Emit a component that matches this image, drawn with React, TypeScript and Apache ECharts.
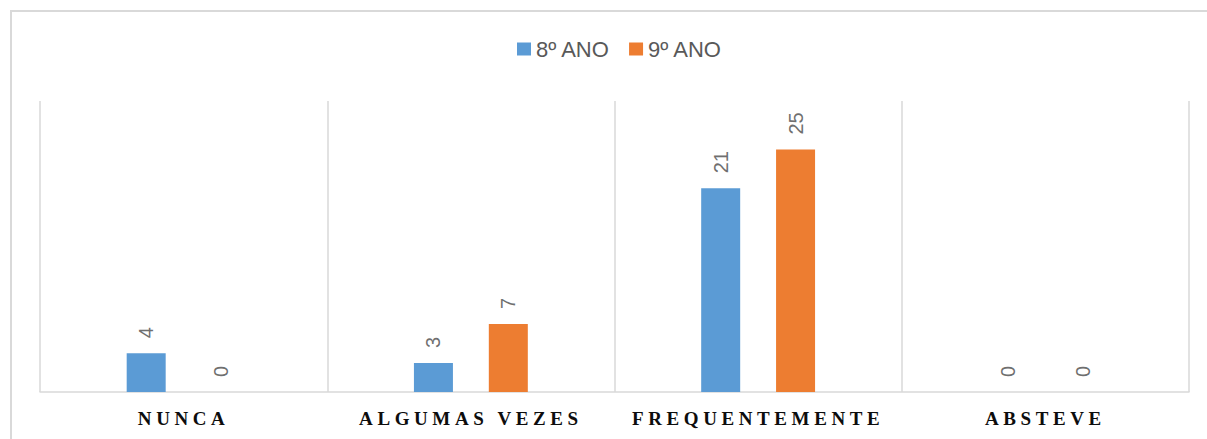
import React, { useEffect, useRef } from "react";
import * as echarts from "echarts";

const categories = ["NUNCA", "ALGUMAS VEZES", "FREQUENTEMENTE", "ABSTEVE"];
const seriesNames = ["8º ANO", "9º ANO"];
const ano8 = [4, 3, 21, 0];
const ano9 = [0, 7, 25, 0];
const colors = ["#5B9BD5", "#ED7D31"];

export default function App() {
  const ref = useRef<HTMLDivElement>(null);
  useEffect(() => {
    if (!ref.current) return;
    const chart = echarts.init(ref.current, null, { renderer: "svg" });
    const valueLabel = {
      show: true,
      position: "top",
      distance: 15,
      rotate: 90,
      align: "left",
      verticalAlign: "middle",
      color: "#6f6f6f",
      fontSize: 20,
      fontFamily: "Liberation Sans, Arial, sans-serif",
    };
    chart.setOption({
      animation: false,
      backgroundColor: "#ffffff",
      graphic: [
        {
          type: "rect",
          shape: { x: 11, y: 11, width: 1220, height: 460 },
          style: { fill: "none", stroke: "#d9d9d9", lineWidth: 2 },
          silent: true,
        },
      ],
      legend: {
        data: seriesNames,
        left: 512,
        top: 33,
        itemWidth: 14,
        itemHeight: 13,
        itemGap: 19,
        icon: "rect",
        textStyle: {
          color: "#595959",
          fontSize: 22,
          fontFamily: "Liberation Sans, Arial, sans-serif",
        },
      },
      grid: { left: 40, right: 18, top: 101, bottom: 47, containLabel: false },
      xAxis: {
        type: "category",
        data: categories,
        axisTick: { show: false },
        axisLine: { show: true, lineStyle: { color: "#d9d9d9", width: 1.5 } },
        splitLine: { show: true, lineStyle: { color: "#d9d9d9", width: 1.5 } },
        axisLabel: {
          interval: 0,
          margin: 17,
          color: "#0d0d0d",
          fontSize: 19,
          fontWeight: "bold",
          fontFamily: "Liberation Serif, Times New Roman, serif",
        },
      },
      yAxis: {
        type: "value",
        min: 0,
        max: 30,
        show: false,
        splitLine: { show: false },
      },
      series: [
        {
          name: seriesNames[0],
          type: "bar",
          data: ano8,
          barWidth: 39,
          barGap: "92%",
          itemStyle: { color: colors[0] },
          label: valueLabel,
        },
        {
          name: seriesNames[1],
          type: "bar",
          data: ano9,
          barWidth: 39,
          barGap: "92%",
          itemStyle: { color: colors[1] },
          label: valueLabel,
        },
      ],
    });
    const patch = () => {
      if (!ref.current) return;
      ref.current.querySelectorAll("text").forEach((t) => {
        if (categories.includes((t.textContent || "").trim())) {
          (t as SVGTextElement).style.letterSpacing = "4.6px";
        }
      });
    };
    patch();
    chart.on("finished", patch);
    return () => chart.dispose();
  }, []);
  return (
    <div
      ref={ref}
      style={{ position: "fixed", left: 0, top: 0, width: 1207, height: 439 }}
    />
  );
}
